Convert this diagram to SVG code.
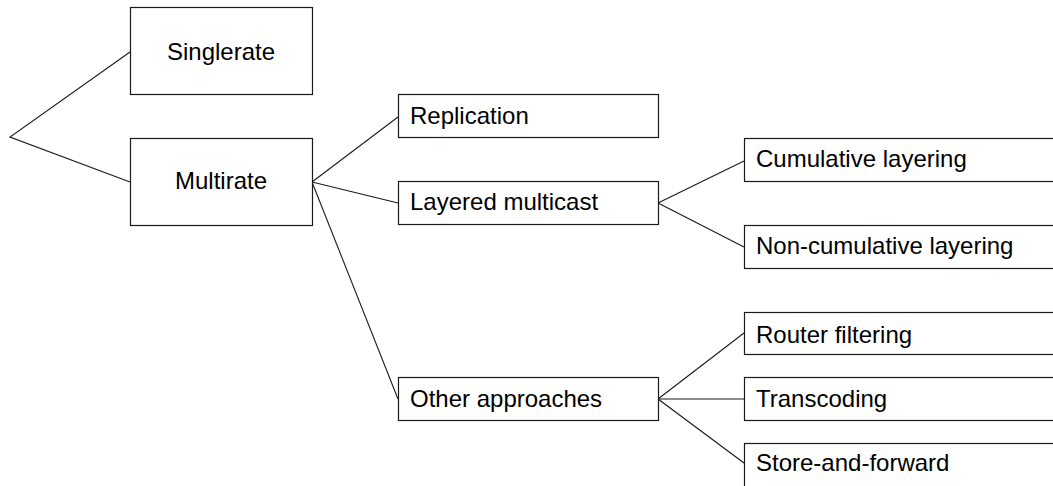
<svg xmlns="http://www.w3.org/2000/svg" width="1053" height="486" viewBox="0 0 1053 486">
  <style>
    .box { fill: #ffffff; stroke: #1a1a1a; stroke-width: 1.2; }
    .edge { fill: none; stroke: #1a1a1a; stroke-width: 1.1; }
    .lbl { font-family: "Liberation Sans", Arial, sans-serif; font-size: 24px; fill: #000000; }
    .mid { text-anchor: middle; }
  </style>
  <rect width="1053" height="486" fill="#ffffff"/>

  <!-- tree branches -->
  <g id="connectors">
    <polyline class="edge" points="130,52 10,137 130,182"/>
    <line class="edge" x1="312" y1="182" x2="398" y2="117"/>
    <line class="edge" x1="312" y1="182" x2="398" y2="203"/>
    <line class="edge" x1="312" y1="182" x2="398" y2="399"/>
    <line class="edge" x1="658" y1="203" x2="744" y2="161"/>
    <line class="edge" x1="658" y1="203" x2="744" y2="247"/>
    <line class="edge" x1="658" y1="399" x2="744" y2="333"/>
    <line class="edge" x1="658" y1="399" x2="744" y2="399"/>
    <line class="edge" x1="658" y1="399" x2="744" y2="463"/>
  </g>

  <g id="singlerate">
    <rect class="box" x="130.5" y="7.5" width="182" height="87"/>
    <text class="lbl mid" x="221" y="60">Singlerate</text>
  </g>
  <g id="multirate">
    <rect class="box" x="130.5" y="138.5" width="182" height="87"/>
    <text class="lbl mid" x="221" y="189">Multirate</text>
  </g>

  <g id="replication">
    <rect class="box" x="398.5" y="94.5" width="260" height="43"/>
    <text class="lbl" x="410" y="124">Replication</text>
  </g>
  <g id="layered-multicast">
    <rect class="box" x="398.5" y="181.5" width="260" height="43"/>
    <text class="lbl" x="410" y="210">Layered multicast</text>
  </g>
  <g id="other-approaches">
    <rect class="box" x="398.5" y="377.5" width="260" height="43"/>
    <text class="lbl" x="410" y="407">Other approaches</text>
  </g>

  <g id="cumulative-layering">
    <rect class="box" x="744.5" y="138.5" width="320" height="43"/>
    <text class="lbl" x="756" y="167">Cumulative layering</text>
  </g>
  <g id="non-cumulative-layering">
    <rect class="box" x="744.5" y="225.5" width="320" height="43"/>
    <text class="lbl" x="756" y="254">Non-cumulative layering</text>
  </g>
  <g id="router-filtering">
    <rect class="box" x="744.5" y="312.5" width="320" height="42"/>
    <text class="lbl" x="756" y="343">Router filtering</text>
  </g>
  <g id="transcoding">
    <rect class="box" x="744.5" y="377.5" width="320" height="43"/>
    <text class="lbl" x="756" y="407">Transcoding</text>
  </g>
  <g id="store-and-forward">
    <rect class="box" x="744.5" y="443.5" width="320" height="60"/>
    <text class="lbl" x="756" y="471">Store-and-forward</text>
  </g>
</svg>
